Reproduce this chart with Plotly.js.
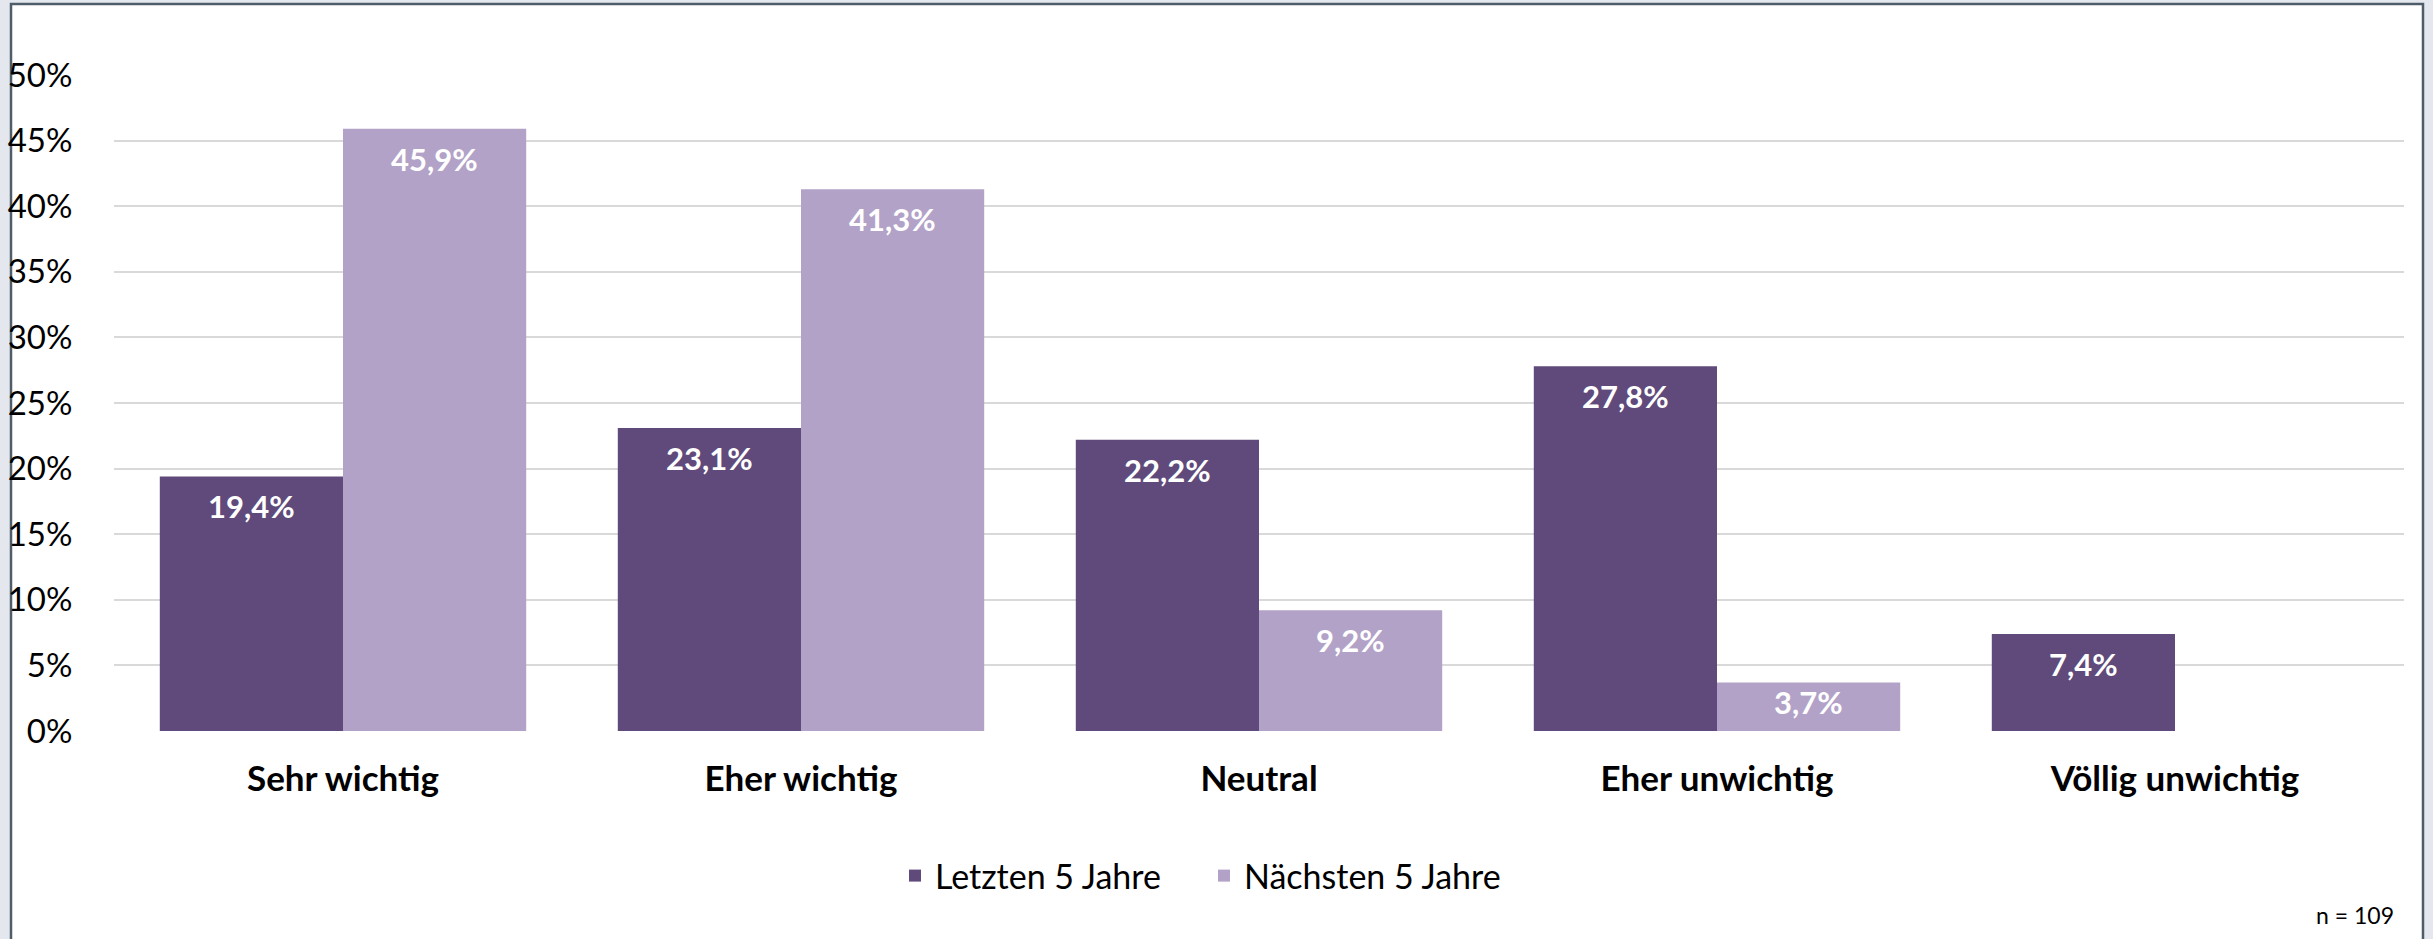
<!DOCTYPE html>
<html>
<head>
<meta charset="utf-8">
<script src="https://cdn.plot.ly/plotly-3.0.1.min.js"></script>
<style>
  html, body { margin: 0; padding: 0; background: #e4e8ee; }
  #chart { width: 2433px; height: 939px; }
</style>
</head>
<body>
<div id="chart"></div>
<script>
// ---- data ----
const categories = ["Sehr wichtig", "Eher wichtig", "Neutral", "Eher unwichtig", "Völlig unwichtig"];
const seriesNames = ["Letzten 5 Jahre", "Nächsten 5 Jahre"];
const letzten5 = [0.194, 0.231, 0.222, 0.278, 0.074];
const naechsten5 = [0.459, 0.413, 0.092, 0.037, null];
const yTickVals = [0, 0.05, 0.10, 0.15, 0.20, 0.25, 0.30, 0.35, 0.40, 0.45, 0.50];
const yTickText = ["0%", "5%", "10%", "15%", "20%", "25%", "30%", "35%", "40%", "45%", "50%"];
const noteText = "n = 109";

// ---- styling ----
const W = 2433, H = 939;
const M = { l: 114, r: 29, t: 75, b: 208 };
const plotW = W - M.l - M.r, plotH = H - M.t - M.b;
const yMax = 0.5;
const colors = ["#604a7b", "#b3a2c7"];
const FONT = "Lato, 'Open Sans', sans-serif";

function fmt(v) { return (v * 100).toFixed(1).replace(".", ",") + "%"; }

const seriesVals = [letzten5, naechsten5];
const traces = seriesVals.map((vals, i) => ({
  type: "bar",
  name: seriesNames[i],
  x: categories,
  y: vals,
  marker: { color: colors[i], line: { width: 0 } },
  hoverinfo: "skip"
}));

// value labels (inside end), placed through the axes
const catW = plotW / categories.length;
const barW = catW * 0.8 / 2;
const annotations = [];
seriesVals.forEach((vals, i) => {
  vals.forEach((v, j) => {
    if (v === null || v === undefined) return;
    const hPx = v / yMax * plotH;
    annotations.push({
      x: categories[j], y: v, xref: "x", yref: "y",
      text: "<b>" + fmt(v) + "</b>",
      showarrow: false,
      xshift: (i === 0 ? -1 : 1) * barW / 2,
      yshift: -Math.min(30, hPx * 0.4),
      yanchor: "middle", xanchor: "center",
      font: { family: FONT, size: 31, color: "#ffffff" }
    });
  });
});
annotations.push({
  xref: "paper", yref: "paper",
  x: (2396 - M.l) / plotW, y: (H - M.b - 915) / plotH,
  xanchor: "right", yanchor: "middle",
  text: noteText, showarrow: false,
  font: { family: FONT, size: 23, color: "#000000" }
});

const frame = {
  type: "rect", xref: "paper", yref: "paper", layer: "below",
  x0: (11 - M.l) / plotW, x1: (2423 - M.l) / plotW,
  y0: (H - M.b - 960) / plotH, y1: (H - M.b - 4) / plotH,
  fillcolor: "#ffffff",
  line: { color: "#4e5d69", width: 2.5 }
};

const layout = {
  width: W, height: H,
  margin: M,
  paper_bgcolor: "#e4e8ee",
  plot_bgcolor: "rgba(0,0,0,0)",
  font: { family: FONT, color: "#000000" },
  barmode: "group",
  bargap: 0.2,
  bargroupgap: 0,
  showlegend: true,
  legend: {
    orientation: "h",
    xref: "container", yref: "container",
    x: 895 / W, xanchor: "left",
    y: 1 - 876 / H, yanchor: "middle",
    entrywidth: 264, entrywidthmode: "pixels",
    font: { family: FONT, size: 34, color: "#000000" },
    bgcolor: "rgba(0,0,0,0)",
    traceorder: "normal",
    itemclick: false, itemdoubleclick: false
  },
  xaxis: {
    type: "category",
    showgrid: false, zeroline: false, showline: false,
    ticks: "outside", ticklen: 0,
    ticklabelstandoff: 17,
    tickfont: { family: FONT, size: 35, color: "#000000", weight: "bold" },
    fixedrange: true
  },
  yaxis: {
    range: [0, yMax],
    tickvals: yTickVals, ticktext: yTickText,
    showgrid: true, gridcolor: "#d9d9d9", gridwidth: 2,
    zeroline: false, showline: false,
    ticks: "outside", ticklen: 0,
    ticklabelstandoff: 34,
    tickfont: { family: FONT, size: 33, color: "#000000" },
    fixedrange: true
  },
  shapes: [frame],
  annotations: annotations
};

Plotly.newPlot("chart", traces, layout, { displayModeBar: false, staticPlot: true });
</script>
</body>
</html>
